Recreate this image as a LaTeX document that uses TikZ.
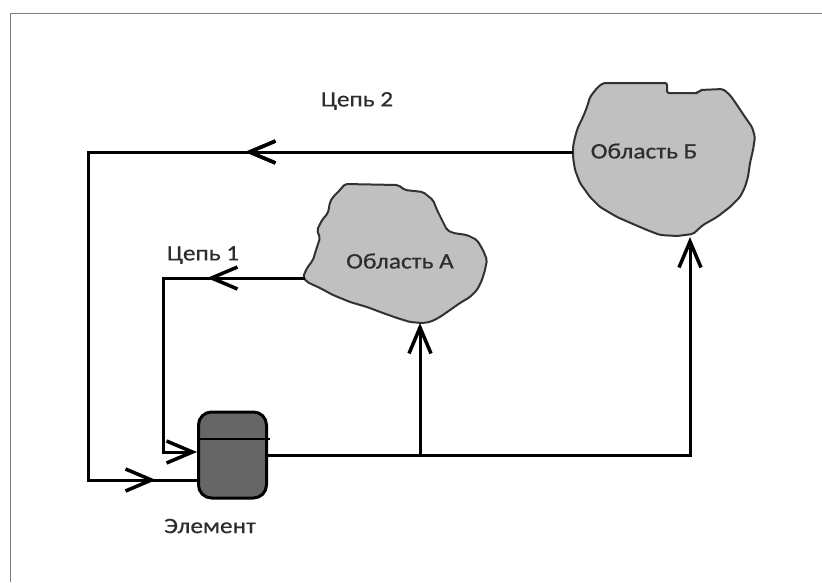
\documentclass[tikz,border=0pt]{standalone}
\usepackage{fontspec}
\setmainfont{Carlito}
\newfontfamily\lblfont[FakeStretch=1.15,FakeBold=0.6]{Carlito}
\usetikzlibrary{arrows.meta,decorations.markings}
\definecolor{blobfill}{RGB}{192,192,192}
\definecolor{blobline}{RGB}{50,50,50}
\definecolor{elemfill}{RGB}{102,102,102}
\definecolor{txt}{RGB}{45,45,45}
\tikzset{
  barb/.tip={Straight Barb[length=26pt,width=22pt,line width=3.5pt]},
  conn/.style={line width=3pt, line join=miter},
  midarrow/.style={postaction={decorate},
    decoration={markings, mark=at position #1 with {\arrow{barb}}}},
  blob/.style={fill=blobfill, draw=blobline, line width=2pt, rounded corners=2pt},
  lbl/.style={font=\lblfont\fontsize{22}{26}\selectfont, text=txt, inner sep=0pt},
  elembox/.style={rectangle, rounded corners=13pt, fill=elemfill, draw=black,
    line width=3pt, minimum width=68pt, minimum height=86pt, inner sep=0pt},
}
\begin{document}
\begin{tikzpicture}[x=1pt,y=-1pt]
\useasboundingbox (0,0) rectangle (822,582);
% frame
\draw[gray, line width=1pt] (10,582) -- (10,13) -- (822,13);

% Oblast A
\draw[blob] (345,184) -- (398,185) -- (405,190) -- (423,192) -- (433,200) -- (437,210)
  -- (442,220) -- (447,230) -- (453,233) -- (467,235) -- (477,240) -- (483,250)
  -- (487,260) -- (485,270) -- (482,280) -- (477,290) -- (470,297) -- (460,303)
  -- (450,310) -- (440,317) -- (430,322) -- (422,323) -- (410,322) -- (397,318)
  -- (383,313) -- (367,307) -- (350,302) -- (333,295) -- (320,288) -- (307,282)
  -- (303,277) -- (307,268) -- (313,260) -- (317,247) -- (320,238) -- (317,230)
  -- (322,220) -- (328,213) -- (330,202) -- (333,197) -- (340,190) -- cycle;
\node[lbl] (tA) at (400,261) {Область А};

% Oblast B
\draw[blob] (603,83) -- (667,83) -- (667,93) -- (698,93) -- (700,90) -- (723,89)
  -- (730,95) -- (737,105) -- (745,117) -- (752,127) -- (755,137) -- (753,150)
  -- (750,163) -- (748,177) -- (745,187) -- (740,197) -- (730,207) -- (717,217)
  -- (703,225) -- (693,234) -- (677,236) -- (660,235) -- (647,230) -- (633,224)
  -- (617,217) -- (600,207) -- (590,197) -- (580,183) -- (575,170) -- (573,157)
  -- (573,147) -- (575,137) -- (578,127) -- (583,117) -- (587,107) -- (590,97)
  -- (597,88) -- cycle;
\node[lbl] (tB) at (644,151) {Область Б};

% connection points
\coordinate (Aw) at (305,278);
\coordinate (As) at (420,323);
\coordinate (Bw) at (573,152);
\coordinate (Bs) at (690,237);

% element
\node[elembox] (elem) at (232.5,455) {};
\draw[line width=2pt] (200,439) -- (270,439);
\node[lbl] (tE) at (210,526) {Элемент};

% corners
\coordinate (c2a) at (88,152);
\coordinate (c2b) at (88,480);
\coordinate (c1a) at (163,278);
\coordinate (c1b) at (163,452);
\coordinate (oc) at (690,455);
\coordinate (j) at (420,455);

% chain 2
\draw[conn, midarrow=328pt, postaction={decorate,
    decoration={markings, mark=at position 881pt with {\arrow{barb}}}}]
  (Bw) -- (c2a) -- (c2b) -- (elem.west |- c2b);
% chain 1
\draw[conn, midarrow=98pt, -barb] (Aw) -- (c1a) -- (c1b) -- (elem.west |- c1b);
% output
\draw[conn, -barb] (elem.east) -- (oc) -- (Bs);
\draw[conn, -barb] (j) -- (As);

\node[lbl] (t2) at (357,101) {Цепь 2};
\node[lbl] (t1) at (203,255) {Цепь 1};
\end{tikzpicture}
\end{document}
